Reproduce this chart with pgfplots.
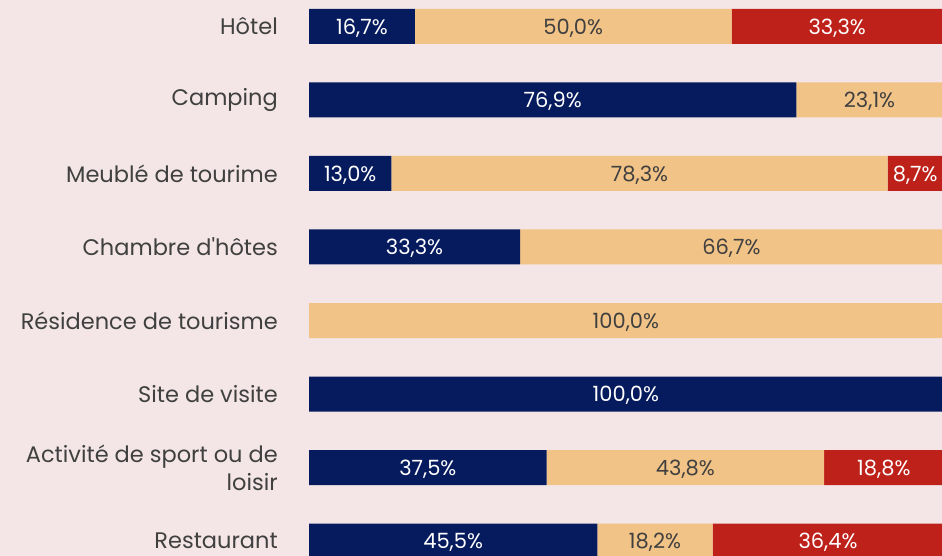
\documentclass[border=0pt]{standalone}
\usepackage{fontspec}
\setmainfont{Poppins}
\usepackage{pgfplots}
\pgfplotsset{compat=1.18}
\definecolor{bgc}{HTML}{F4E6E7}
\definecolor{navy}{HTML}{061A5E}
\definecolor{tan}{HTML}{F2C386}
\definecolor{redc}{HTML}{BE2119}
\definecolor{txt}{HTML}{404040}
\begin{document}
\begin{tikzpicture}
\fill[bgc] (0,0) rectangle (942pt,556pt);
\begin{axis}[
  at={(309pt,0pt)}, anchor=south west,
  scale only axis, width=635pt, height=556pt,
  xbar stacked, bar width=35pt,
  xmin=0, xmax=100.2,
  y dir=reverse, ymin=-0.3605, ymax=7.204,
  ytick={0,...,7},
  yticklabels={H\^otel,Camping,Meubl\'e de tourime,Chambre d\textquotesingle h\^otes,R\'esidence de tourisme,Site de visite,Activit\'e de sport ou de\\loisir,Restaurant},
  yticklabel style={anchor=east, inner sep=0pt, xshift=-31pt, align=right, font=\fontsize{22.5}{28}\selectfont, text=txt},
  xtick=\empty,
  major tick length=0pt,
  axis line style={draw=none},
  /pgf/number format/assume math mode=true,
  visualization depends on=rawx \as \rawx,
  nodes near coords={\ifdim\rawx pt>0.01pt\pgfmathprintnumber[fixed,fixed zerofill,precision=1,use comma]{\rawx}\%\fi},
  every node near coord/.append style={anchor=center, yshift=-1.5pt, font=\fontsize{21}{24}\selectfont},
]
\addplot[fill=navy, draw=none, nodes near coords style={text=white}] coordinates {
(16.7,0) (76.9,1) (13.0,2) (33.3,3) (0,4) (100,5) (37.5,6) (45.5,7)};
\addplot[fill=tan, draw=none, nodes near coords style={text=txt}] coordinates {
(50.0,0) (23.1,1) (78.3,2) (66.7,3) (100,4) (0,5) (43.8,6) (18.2,7)};
\addplot[fill=redc, draw=none, nodes near coords style={text=white}] coordinates {
(33.3,0) (0,1) (8.7,2) (0,3) (0,4) (0,5) (18.8,6) (36.4,7)};
\end{axis}
\pgfresetboundingbox
\path[use as bounding box] (0,0) rectangle (942pt,556pt);
\end{tikzpicture}
\end{document}
